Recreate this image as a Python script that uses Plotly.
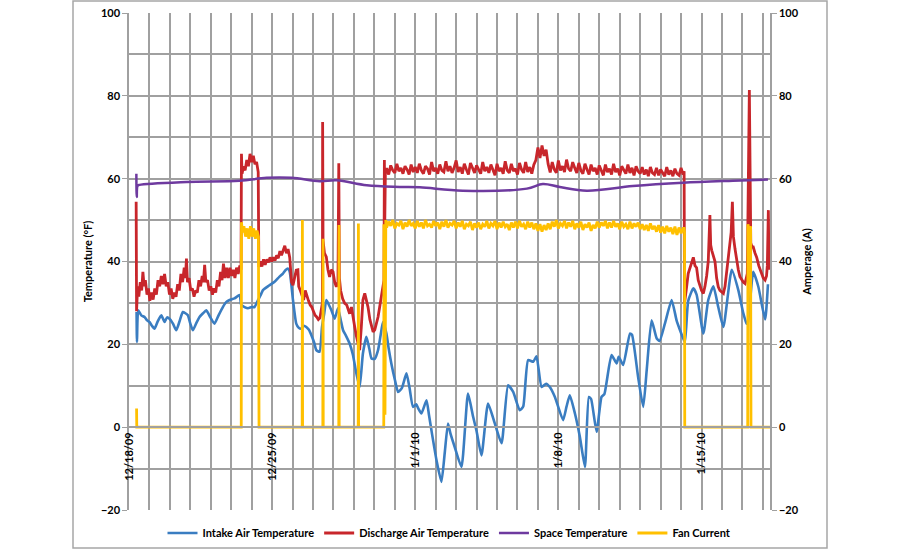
import pandas as pd
import plotly.graph_objects as go

BASE = pd.Timestamp("2009-12-18")

# ---------------- data (days after 12/18/09 00:00) ----------------
intake_days = [0.37, 0.39, 0.45, 0.60, 0.76, 0.88, 1.00, 1.12, 1.25, 1.40, 1.58, 1.74, 1.86, 1.98,
               2.15, 2.31, 2.47, 2.63, 2.76, 2.88, 3.00, 3.12, 3.28, 3.45, 3.62, 3.78, 3.98, 4.18,
               4.38, 4.59, 4.75, 4.92, 5.16, 5.41, 5.49, 5.65, 5.82, 6.00, 6.14, 6.31, 6.45, 6.55,
               6.85, 7.12, 7.35, 7.53, 7.65, 7.77, 7.86, 8.02, 8.18, 8.30, 8.43, 8.55, 8.67, 8.80,
               8.92, 9.05, 9.16, 9.32, 9.44, 9.55, 9.65, 9.78, 9.90, 10.06, 10.22, 10.35, 10.47,
               10.62, 10.79, 10.95, 11.12, 11.28, 11.44, 11.61, 11.75, 11.86, 12.02, 12.18, 12.30,
               12.42, 12.59, 12.70, 12.83, 13.00, 13.16, 13.35, 13.57, 13.72, 13.89, 14.05, 14.15,
               14.30, 14.55, 14.67, 14.79, 15.04, 15.28, 15.44, 15.60, 15.72, 15.93, 16.26, 16.58,
               16.83, 17.00, 17.24, 17.56, 17.89, 18.22, 18.54, 18.79, 19.11, 19.28, 19.52, 19.77,
               19.93, 20.18, 20.40, 20.58, 20.83, 21.23, 21.40, 21.56, 21.81, 22.05, 22.30, 22.49,
               22.60, 22.87, 23.11, 23.25, 23.60, 23.85, 23.95, 24.17, 24.50, 24.60, 24.90, 25.15,
               25.32, 25.56, 25.81, 25.95, 26.21, 26.54, 26.78, 26.95, 27.10, 27.19, 27.35, 27.60,
               27.76, 28.09, 28.33, 28.58, 28.82, 29.07, 29.48, 29.80, 30.05, 30.21, 30.26, 30.53,
               30.78, 31.11, 31.25]
intake_temp = [27.8, 20.6, 28.2, 27.0, 26.6, 25.8, 25.4, 24.5, 23.8, 25.5, 27.0, 25.4, 26.5, 26.2,
               25.0, 23.4, 25.5, 27.8, 27.5, 27.0, 25.0, 23.4, 25.0, 26.6, 27.5, 28.2, 26.5, 25.0,
               27.0, 29.0, 30.2, 30.7, 31.1, 31.9, 29.5, 29.0, 28.7, 29.0, 29.0, 30.7, 32.0, 33.1,
               34.2, 35.1, 36.3, 37.1, 37.9, 38.3, 37.5, 30.7, 25.0, 24.0, 23.8, 24.5, 24.2, 23.5,
               22.2, 20.5, 18.6, 18.2, 24.2, 27.5, 30.7, 29.5, 28.2, 26.2, 28.7, 26.0, 23.4,
               22.0, 20.2, 17.5, 13.0, 9.7, 17.8, 21.8, 19.0, 16.6, 16.5, 18.6, 22.0,
               25.4, 22.6, 19.0, 15.4, 11.5, 8.5, 9.5, 13.0, 9.5, 4.9, 5.5, 4.5,
               3.3, 6.5, 3.0, -0.7, -8.0, -13.2, -6.3, 0.9, -1.5, -4.8, -9.6, 8.1,
               2.5, -1.0, -6.8, 5.7, 0.9, -3.9, 10.1, 8.5, 4.1, 5.0, 16.2, 15.8,
               17.1, 9.7, 10.5, 9.7, 7.3, 1.7, 5.0, 7.7, 3.3, -2.3, -9.6, 7.3,
               6.8, -1.1, 7.3, 8.0, 17.4, 15.4, 17.0, 15.0, 22.6, 22.3, 12.1, 4.9,
               13.8, 25.8, 21.4, 20.8, 25.0, 30.7, 25.8, 23.4, 21.5, 20.6, 30.5, 33.5,
               32.0, 22.6, 30.7, 34.0, 29.0, 24.2, 38.0, 33.1, 27.4, 25.0, 25.0, 37.5,
               33.9, 26.0, 34.5]

# discharge air temperature: three pieces (before fan plateau, plateau sampled every 0.1 day, after)
discharge_days_a = [0.35, 0.37, 0.42, 0.48, 0.55, 0.62, 0.68, 0.74, 0.80, 0.88, 0.95, 1.02, 1.10,
                    1.18, 1.26, 1.34, 1.42, 1.50, 1.58, 1.66, 1.74, 1.82, 1.90, 1.98, 2.06, 2.14,
                    2.22, 2.30, 2.38, 2.46, 2.54, 2.62, 2.70, 2.76, 2.81, 2.86, 2.94, 3.02, 3.10,
                    3.18, 3.26, 3.34, 3.42, 3.50, 3.58, 3.64, 3.70, 3.76, 3.84, 3.92, 4.00, 4.08,
                    4.16, 4.24, 4.32, 4.40, 4.48, 4.55, 4.62, 4.70, 4.78, 4.86, 4.94, 5.02, 5.10,
                    5.18, 5.26, 5.34, 5.42, 5.48, 5.50, 5.53, 5.60, 5.68, 5.76, 5.84, 5.92, 6.00,
                    6.08, 6.16, 6.24, 6.32, 6.35, 6.42, 6.50, 6.58, 6.66, 6.74, 6.82, 6.90, 6.98,
                    7.06, 7.14, 7.22, 7.30, 7.38, 7.46, 7.54, 7.62, 7.70, 7.78, 7.86, 7.95, 8.02,
                    8.10, 8.18, 8.26, 8.30, 8.38, 8.46, 8.54, 8.62, 8.70, 8.78, 8.86, 8.94, 9.02,
                    9.10, 9.18, 9.26, 9.34, 9.42, 9.46, 9.47, 9.49, 9.56, 9.65, 9.73, 9.81, 9.89,
                    9.98, 10.06, 10.14, 10.22, 10.26, 10.29, 10.35, 10.45, 10.55, 10.65, 10.79,
                    10.88, 10.96, 11.04, 11.12, 11.20, 11.28, 11.36, 11.44, 11.53, 11.61, 11.69,
                    11.78, 11.86, 11.94, 12.02, 12.10, 12.18, 12.26, 12.34, 12.42, 12.47, 12.49,
                    12.51, 12.54]
discharge_temp_a = [54.4, 28.0, 34.0, 31.5, 35.0, 33.0, 37.5, 34.0, 35.5, 32.0, 33.5, 30.5, 32.5,
                    30.8, 33.5, 32.0, 35.5, 34.0, 36.5, 34.5, 37.0, 34.0, 35.0, 32.0, 33.5, 31.0,
                    32.5, 31.5, 34.5, 33.0, 37.0, 35.0, 38.5, 36.0, 40.7, 35.0, 36.0, 33.0, 33.5,
                    31.5, 33.0, 32.5, 35.5, 34.0, 36.5, 35.0, 39.2, 35.0, 35.5, 33.0, 34.0, 32.0,
                    33.5, 32.5, 35.5, 34.0, 37.5, 35.5, 39.5, 36.0, 38.5, 36.0, 38.5, 36.5, 38.0,
                    36.0, 38.5, 37.0, 39.0, 38.0, 66.0, 61.2, 63.0, 62.0, 64.5, 63.0, 66.0, 64.0,
                    65.5, 63.5, 64.0, 61.6, 38.7, 40.0, 38.8, 40.5, 39.2, 40.5, 39.8, 41.0, 40.0,
                    41.0, 40.2, 41.5, 40.8, 42.5, 41.5, 43.0, 43.8, 42.0, 43.0, 41.0, 35.0, 34.3,
                    36.0, 37.9, 38.0, 34.0, 33.0, 31.5, 30.7, 33.0, 31.5, 30.5, 29.5, 29.0, 28.0,
                    27.0, 26.6, 26.0, 26.4, 29.0, 30.0, 73.7, 45.1, 42.0, 41.1, 38.0, 36.3, 38.0,
                    37.5, 35.0, 33.9, 35.0, 63.7, 36.0, 33.0, 31.0, 29.9, 29.5, 27.4,
                    29.0, 26.0, 24.2, 22.0, 20.5, 18.6, 24.0, 30.7, 32.3, 30.5, 29.0,
                    26.0, 24.2, 23.0, 23.5, 25.0, 26.6, 29.0, 31.5, 33.0, 35.5, 64.5,
                    50.0, 62.0]

plateau_days = [round(12.6 + 0.1 * i, 2) for i in range(146)]   # 12.6 ... 27.1, logger samples
discharge_temp_plateau = [
    62.5, 61.0, 63.2, 62.0, 61.4, 63.6, 61.8, 62.6, 61.2, 63.0, 62.2, 61.0, 63.4, 61.6, 62.8,
    61.4, 63.6, 62.0, 61.2, 63.0, 62.4, 61.0, 64.0, 61.8, 62.6, 61.2, 63.4, 62.0, 61.6, 64.2,
    61.8, 63.0, 61.4, 62.6, 64.4, 61.6, 62.8, 61.2, 63.6, 62.2, 61.0, 63.8, 62.4, 61.4, 63.2,
    62.0, 61.2, 64.0, 61.8, 62.8, 61.4, 63.4, 62.0, 60.8, 63.6, 61.8, 62.6, 61.2, 64.2, 62.0,
    61.4, 63.6, 61.8, 62.4, 61.0, 63.8, 62.2, 61.4, 64.0, 61.6, 62.8, 61.2, 63.4, 64.5,
    67.5, 65.0, 68.0, 65.5, 67.0, 63.5,
    61.5, 64.0, 62.2, 61.4, 64.4, 62.0, 63.0, 61.6, 64.6, 62.4, 61.8, 64.0, 62.6, 61.4, 63.8,
    62.0, 61.2, 63.6, 62.2, 61.0, 63.4, 61.8, 62.6, 61.0, 63.2, 62.0, 60.8, 63.4, 61.6, 62.4,
    61.0, 63.6, 61.6, 62.4, 60.8, 63.0, 62.0, 61.2, 63.4, 61.4, 62.6, 60.8, 63.0, 61.8, 61.2,
    62.8, 61.0, 62.2, 60.6, 62.8, 61.4, 61.0, 62.6, 60.8, 62.2, 61.2, 60.6, 62.8, 61.0, 62.0,
    60.6, 62.4, 61.2, 60.8, 62.6, 61.0]

discharge_days_c = [27.15, 27.17, 27.19, 27.25, 27.35, 27.45, 27.55, 27.60, 27.68, 27.76, 27.84,
                    27.92, 28.00, 28.09, 28.17, 28.25, 28.33, 28.41, 28.45, 28.50, 28.58, 28.66,
                    28.74, 28.82, 28.90, 29.00, 29.07, 29.15, 29.23, 29.31, 29.39, 29.45, 29.51,
                    29.56, 29.64, 29.72, 29.80, 29.88, 29.96, 30.05, 30.13, 30.20, 30.24, 30.34,
                    30.38, 30.41, 30.47, 30.53, 30.62, 30.70, 30.80, 30.94, 31.02, 31.11, 31.18,
                    31.22, 31.27, 31.30]
discharge_temp_c = [61.8, 30.0, 31.0, 33.0, 37.1, 38.5, 40.3, 41.0, 39.0, 38.5, 35.5,
                    33.9, 33.0, 32.3, 34.0, 36.5, 40.0, 51.2, 44.0, 42.7, 41.0, 40.0,
                    36.0, 33.9, 33.0, 32.5, 32.3, 34.0, 37.5, 41.0, 45.9, 47.0, 54.4,
                    46.0, 43.0, 40.0, 38.0, 36.3, 35.5, 35.0, 34.7, 36.0, 37.1, 81.4,
                    48.0, 44.5, 43.5, 43.5, 42.0, 41.0, 39.0, 37.1, 36.0, 35.5, 36.5,
                    39.0, 52.4, 38.0]

space_days = [0.36, 0.38, 0.42, 0.51, 2.81, 5.41, 6.73, 7.95, 9.32, 10.16, 11.63, 13.24, 14.22,
              16.32, 19.46, 20.24, 21.07, 22.39, 24.64, 27.09, 29.54, 31.25]
space_temp = [61.2, 55.6, 58.3, 58.5, 59.2, 59.5, 60.2, 60.2, 59.4, 59.6, 58.4, 58.0, 57.9,
              57.1, 57.6, 58.7, 58.0, 57.1, 58.2, 59.0, 59.5, 59.8]

fan_days_a = [0.37, 0.38, 5.49, 5.50, 5.55, 5.62, 5.70, 5.78, 5.86, 5.94, 6.02, 6.10, 6.18, 6.26,
              6.33, 6.36, 8.47, 8.48, 8.49, 9.48, 9.49, 9.50, 10.26, 10.27, 10.28, 11.21, 11.22,
              11.23, 12.46, 12.47, 12.52, 12.56]
fan_amps_a = [4.5, 0, 0, 49.5, 47.0, 48.5, 46.0, 48.0, 45.5, 48.5, 46.0, 48.0, 45.5, 47.5,
              46.0, 0, 0, 50.0, 0, 0, 45.5, 0, 0, 48.8, 0, 0, 49.2,
              0, 0, 49.0, 3.0, 50.0]
fan_amps_plateau = [
    48.2, 49.6, 48.6, 50.0, 48.0, 49.2, 48.8, 49.8, 47.8, 49.4, 48.4, 50.0, 48.6, 49.2, 48.0,
    49.8, 48.4, 49.4, 48.0, 50.0, 48.6, 49.0, 48.2, 49.8, 48.6, 49.4, 47.8, 49.6, 48.4, 50.0,
    48.2, 49.2, 48.8, 49.8, 48.0, 49.4, 48.4, 49.8, 47.8, 49.0, 48.6, 49.6, 47.6, 49.2, 48.2,
    49.4, 47.8, 49.0, 48.4, 49.8, 48.0, 49.2, 48.6, 49.8, 47.8, 49.4, 48.2, 49.6, 48.4, 49.0,
    47.6, 49.4, 48.2, 49.6, 48.0, 49.8, 48.4, 49.0, 47.8, 49.6, 48.2, 49.4, 47.8, 49.2,
    47.4, 49.0, 47.2, 48.8, 47.6, 49.2,
    47.8, 49.6, 48.4, 50.0, 48.0, 49.2, 48.6, 49.8, 48.0, 49.4, 48.4, 49.8, 47.8, 49.2, 48.2,
    49.6, 47.6, 49.0, 48.2, 49.4, 47.4, 48.8, 48.0, 49.6, 48.2, 49.4, 48.6, 49.8, 48.0, 49.4,
    48.2, 49.8, 48.4, 49.2, 47.8, 49.6, 48.4, 49.0, 47.8, 49.6, 48.0, 49.2, 48.4, 49.4, 47.8,
    49.0, 47.6, 48.8, 47.4, 49.2, 47.8, 48.6, 47.2, 48.8, 47.0, 48.4, 46.8, 48.6, 47.2, 48.2,
    46.6, 48.4, 46.4, 48.2, 46.8, 48.0]
fan_days_c = [27.15, 27.17, 27.18, 30.26, 30.27, 30.33, 30.40, 30.42, 31.35]
fan_amps_c = [48.0, 47.0, 0, 0, 49.0, 47.5, 48.5, 0, 0]

date_ticks = ["2009-12-18", "2009-12-25", "2010-01-01", "2010-01-08", "2010-01-15"]
date_tick_labels = ["12/18/09", "12/25/09", "1/1/10", "1/8/10", "1/15/10"]
x_end_days = 31.35

discharge_days = discharge_days_a + plateau_days + discharge_days_c
discharge_temp = discharge_temp_a + discharge_temp_plateau + discharge_temp_c
fan_days = fan_days_a + plateau_days + fan_days_c
fan_amps = fan_amps_a + fan_amps_plateau + fan_amps_c


def to_time(days):
    return [BASE + pd.Timedelta(days=d) for d in days]


FONT = "Lato"
GRID = "#A0A0A0"
BOLD11 = dict(family=FONT, size=11, weight="bold", color="black")

fig = go.Figure()
fig.add_trace(go.Scatter(x=to_time(intake_days), y=intake_temp, mode="lines",
                         name="Intake Air Temperature", line_shape="spline",
                         line=dict(color="#3A7DC1", width=2.6, smoothing=0.5)))
fig.add_trace(go.Scatter(x=to_time(discharge_days), y=discharge_temp, mode="lines",
                         name="Discharge Air Temperature",
                         line=dict(color="#C8262B", width=2.8)))
fig.add_trace(go.Scatter(x=to_time(space_days), y=space_temp, mode="lines",
                         name="Space Temperature", line_shape="spline",
                         line=dict(color="#6E3A9F", width=2.5)))
fig.add_trace(go.Scatter(x=to_time(fan_days), y=fan_amps, mode="lines",
                         name="Fan Current", yaxis="y2",
                         line=dict(color="#FFC000", width=2.8)))

fig.update_layout(
    template="none",
    width=900, height=550,
    margin=dict(l=129, r=130, t=13, b=40, autoexpand=False),
    paper_bgcolor="white", plot_bgcolor="white",
    font=dict(family=FONT, size=11, color="black"),
    showlegend=True,
    legend=dict(orientation="h", x=0.5, xanchor="center",
                yref="container", y=(550 - 533) / 550, yanchor="middle",
                font=BOLD11, itemwidth=30, bgcolor="rgba(0,0,0,0)"),
    xaxis=dict(
        type="date", automargin=False,
        range=[BASE, BASE + pd.Timedelta(days=x_end_days)],
        anchor="free", position=20 / 120,
        tickmode="array", tickvals=date_ticks, ticktext=date_tick_labels,
        tickangle=-90, tickfont=BOLD11,
        showgrid=True, gridcolor=GRID, gridwidth=1.5,
        minor=dict(dtick=86400000, tick0="2009-12-18", showgrid=True,
                   gridcolor=GRID, gridwidth=1.5),
        showline=True, linecolor=GRID, linewidth=1.5,
        ticks="", zeroline=False,
    ),
    yaxis=dict(
        automargin=False,
        range=[-20, 100], dtick=20, tick0=0,
        showgrid=True, gridcolor=GRID, gridwidth=1.5,
        minor=dict(dtick=10, showgrid=True, gridcolor=GRID, gridwidth=1.5),
        showline=True, linecolor=GRID, linewidth=1.5,
        ticks="outside", ticklen=5, tickcolor=GRID,
        tickfont=BOLD11, zeroline=False,
        title=dict(text="Temperature (°F)", font=BOLD11, standoff=6),
    ),
    yaxis2=dict(
        automargin=False,
        range=[-20, 100], dtick=20, tick0=0, overlaying="y", side="right",
        showgrid=False, showline=True, linecolor=GRID, linewidth=1.5,
        ticks="outside", ticklen=5, tickcolor=GRID,
        tickfont=BOLD11, zeroline=False,
        title=dict(text="Amperage (A)", font=BOLD11, standoff=6),
    ),
    shapes=[dict(type="rect", xref="paper", yref="paper",
                 x0=(73 - 129) / 641, x1=(827 - 129) / 641,
                 y0=(510 - 548) / 497, y1=(510 - 1) / 497,
                 line=dict(color="#A6A6A6", width=1.5), fillcolor="rgba(0,0,0,0)",
                 layer="below")],
)

fig.write_html("out.html")
